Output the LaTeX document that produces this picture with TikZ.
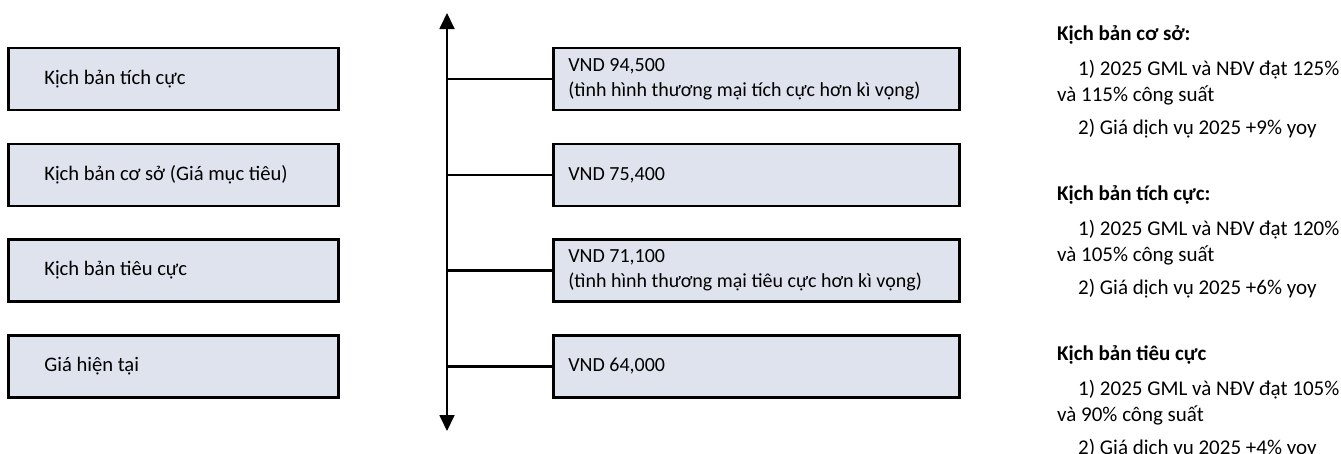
\documentclass[tikz,border=0pt]{standalone}
\usepackage{fontspec}
\setmainfont{Carlito}
\usetikzlibrary{arrows.meta}
\definecolor{boxfill}{HTML}{DEE3ED}
\tikzset{
  leftbox/.style={draw=black, line width=2.6pt, fill=boxfill, minimum height=62pt,
    text width=258pt, inner xsep=36pt, inner ysep=0pt, align=flush left, anchor=west,
    font=\fontsize{20.6}{25}\selectfont},
  valbox/.style={draw=black, line width=2.6pt, fill=boxfill, minimum height=62pt,
    text width=376pt, inner xsep=15pt, inner ysep=0pt, align=flush left, anchor=west,
    font=\fontsize{20}{25}\selectfont},
  note/.style={anchor=base west, inner sep=0pt, align=left,
    font=\fontsize{21}{26}\selectfont},
  conn/.style={line width=2.4pt},
  axis/.style={line width=1.8pt, {Triangle[width=15pt,length=16pt]}-{Triangle[width=15pt,length=16pt]}}
}
\begin{document}
\begin{tikzpicture}[x=1pt,y=-1pt]
\useasboundingbox (0,0) rectangle (1341,453);
% left boxes
\node[leftbox] (l1) at (7,79) {Kịch bản tích cực};
\node[leftbox] (l2) at (7,175) {Kịch bản cơ sở (Giá mục tiêu)};
\node[leftbox] (l3) at (7,270.5) {Kịch bản tiêu cực};
\node[leftbox] (l4) at (7,366.5) {Giá hiện tại};
% value boxes
\node[valbox] (v1) at (552,79) {VND 94,500\\(tình hình thương mại tích cực hơn kì vọng)};
\node[valbox] (v2) at (552,175) {VND 75,400};
\node[valbox] (v3) at (552,270.5) {VND 71,100\\(tình hình thương mại tiêu cực hơn kì vọng)};
\node[valbox] (v4) at (552,366.5) {VND 64,000};
% axis
\coordinate (atop) at (447,13);
\coordinate (abot) at (447,431);
\draw[axis] (atop) -- (abot);
\foreach \v in {v1,v2,v3,v4}{
  \draw[conn] (\v.west -| atop) -- (\v.west);
}
% notes (anchored at the baseline of the last line)
\node[note] (n1) at (1057,134) {\textbf{Kịch bản cơ sở:}\\[9pt]
  \hspace*{21pt}1) 2025 GML và NĐV đạt 125\%\\
  và 115\% công suất\\[7pt]
  \hspace*{21pt}2) Giá dịch vụ 2025 +9\% yoy};
\node[note] (n2) at (1057,294) {\textbf{Kịch bản tích cực:}\\[9pt]
  \hspace*{21pt}1) 2025 GML và NĐV đạt 120\%\\
  và 105\% công suất\\[7pt]
  \hspace*{21pt}2) Giá dịch vụ 2025 +6\% yoy};
\node[note] (n3) at (1057,454) {\textbf{Kịch bản tiêu cực}\\[9pt]
  \hspace*{21pt}1) 2025 GML và NĐV đạt 105\%\\
  và 90\% công suất\\[7pt]
  \hspace*{21pt}2) Giá dịch vụ 2025 +4\% yoy};
\end{tikzpicture}
\end{document}
